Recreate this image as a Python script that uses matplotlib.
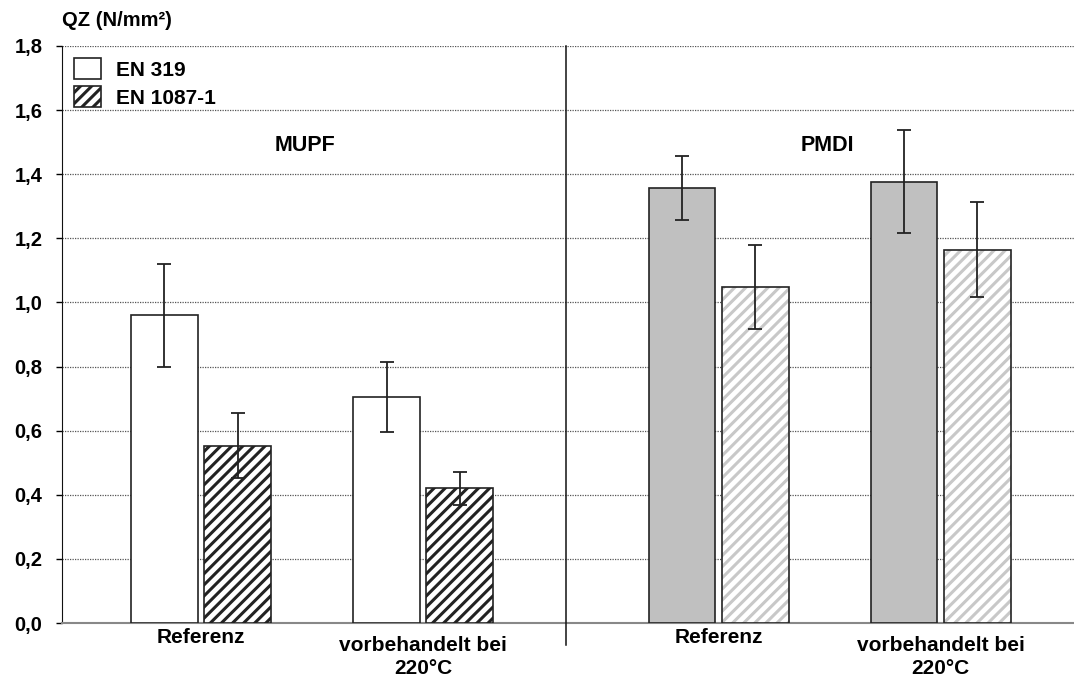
import matplotlib.pyplot as plt
import numpy as np
from matplotlib.patches import Patch
from matplotlib.transforms import blended_transform_factory

plt.rcParams['font.family'] = ['Liberation Sans', 'DejaVu Sans']
plt.rcParams['font.weight'] = 'bold'
plt.rcParams['hatch.linewidth'] = 2.2

# data
categories = ['Referenz', 'vorbehandelt bei\n220°C', 'Referenz', 'vorbehandelt bei\n220°C']
cat_pos = [0, 1, 2.33, 3.33]
en319 = [0.96, 0.705, 1.357, 1.376]
en319_err_lo = [0.80, 0.596, 1.257, 1.216]
en319_err_hi = [1.12, 0.814, 1.457, 1.538]
en1087 = [0.552, 0.421, 1.048, 1.163]
en1087_err_lo = [0.452, 0.368, 0.917, 1.017]
en1087_err_hi = [0.655, 0.471, 1.179, 1.313]
groups = ['MUPF', 'PMDI']
yticks = np.arange(0, 1.81, 0.2)

fig = plt.figure(figsize=(10.74, 6.83), dpi=100)
ax = fig.add_axes([0.0577, 0.0878, 0.9423, 0.8449])

w = 0.30
off = 0.165
x = np.array(cat_pos)
en319 = np.array(en319)
en1087 = np.array(en1087)

fill319 = ['white', 'white', '#c0c0c0', '#c0c0c0']
hatchcol = ['#222222', '#222222', '#c8c8c8', '#c8c8c8']

for i in range(4):
    ax.bar(x[i] - off, en319[i], w, color=fill319[i], edgecolor='#222222', linewidth=1.2, zorder=3)
    # hatch layer then outline
    ax.bar(x[i] + off, en1087[i], w, color='white', edgecolor=hatchcol[i], hatch='///', linewidth=0, zorder=3)
    ax.bar(x[i] + off, en1087[i], w, fill=False, edgecolor='#222222', linewidth=1.2, zorder=4)

e1 = np.array([en319 - np.array(en319_err_lo), np.array(en319_err_hi) - en319])
e2 = np.array([en1087 - np.array(en1087_err_lo), np.array(en1087_err_hi) - en1087])
ax.errorbar(x - off, en319, yerr=e1, fmt='none', ecolor='#222222', elinewidth=1.3, capsize=5, capthick=1.3, zorder=5)
ax.errorbar(x + off, en1087, yerr=e2, fmt='none', ecolor='#222222', elinewidth=1.3, capsize=5, capthick=1.3, zorder=5)

ax.set_xlim(-0.626, 3.93)
ax.set_ylim(0, 1.8)
ax.set_yticks(yticks)
ax.set_yticklabels([f'{v:.1f}'.replace('.', ',') for v in yticks], fontsize=14.5, fontweight='bold')
ax.tick_params(axis='y', length=4, width=1, pad=10)
ax.set_xticks([])
ax.yaxis.grid(True, linestyle=(0, (1, 1)), color='#555555', linewidth=0.9)
ax.set_axisbelow(True)
for s in ['top', 'right']:
    ax.spines[s].set_visible(False)
ax.spines['left'].set_color('#111111')
ax.spines['bottom'].set_color('#888888')
ax.spines['bottom'].set_linewidth(1.5)

# divider line between groups
ax.plot([1.645, 1.645], [-0.07, 1.8], color='#111111', linewidth=1.1, clip_on=False, zorder=6)

# category labels
trans = blended_transform_factory(ax.transData, ax.transAxes)
for xp, lab in zip(cat_pos, categories):
    if '\n' in lab:
        ax.text(xp, -0.059, lab, transform=trans, ha='center', va='center', fontsize=15,
                fontweight='bold', linespacing=1.3)
    else:
        ax.text(xp, -0.025, lab, transform=trans, ha='center', va='center', fontsize=15,
                fontweight='bold')

ax.text(0.47, 1.49, groups[0], ha='center', va='center', fontsize=15.5, fontweight='bold')
ax.text(2.82, 1.49, groups[1], ha='center', va='center', fontsize=15.5, fontweight='bold')

fig.text(62 / 1074, 1 - 20 / 683, 'QZ (N/mm²)', ha='left', va='center', fontsize=14.5, fontweight='bold')

handles = [Patch(facecolor='white', edgecolor='#222222', linewidth=1.2),
           Patch(facecolor='white', edgecolor='#222222', hatch='///', linewidth=1.2)]
leg = ax.legend(handles, ['EN 319', 'EN 1087-1'], loc='upper left', bbox_to_anchor=(0.0, 1.0),
                frameon=False, fontsize=15, handlelength=1.25, handleheight=1.15,
                handletextpad=0.75, labelspacing=0.3, borderaxespad=0.4, borderpad=0.2)
for t in leg.get_texts():
    t.set_fontweight('bold')

fig.savefig('out.png', dpi=100)
